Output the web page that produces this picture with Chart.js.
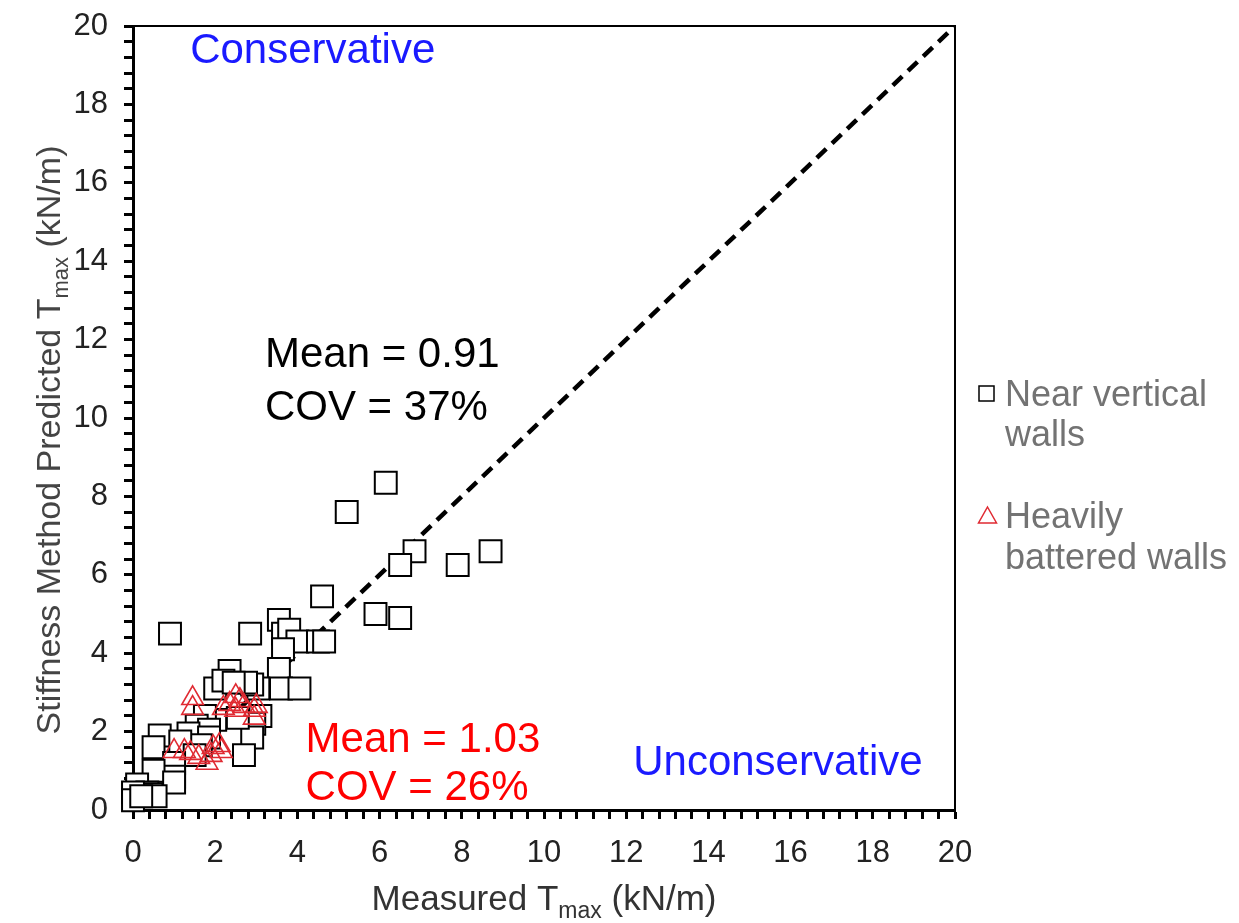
<!DOCTYPE html>
<html>
<head>
<meta charset="utf-8">
<script src="https://cdn.jsdelivr.net/npm/chart.js@4.4.0/dist/chart.umd.min.js"></script>
<style>
  body { margin: 0; background: #fff; }
  #wrap { width: 1239px; height: 923px; }
</style>
</head>
<body>
<div id="wrap"><canvas id="scatterChart" width="1239" height="923"></canvas></div>
<script>
// Near vertical walls (measured, predicted)
var nearX = [5.2, 6.15, 6.85, 8.7, 7.9, 6.5, 5.9, 6.5, 4.6, 3.55, 2.85, 3.65, 3.8, 4.0, 4.5, 4.65, 0.9,
  3.65, 3.55, 3.6, 4.05, 2.35, 2.0, 3.05, 2.9, 2.75, 2.2, 2.45, 3.1, 2.95, 2.9, 2.7, 2.55, 2.0, 1.75,
  1.55, 1.85, 1.35, 1.85, 1.65, 0.65, 0.5, 1.15, 1.5, 1.0, 1.0, 0.5, 1.0, 0.1, 0.35, 0.45, 0.55, 0.0, 0.0, 0.2];
var nearY = [7.6, 8.35, 6.6, 6.6, 6.25, 6.25, 5.0, 4.9, 5.45, 4.85, 4.5, 4.5, 4.6, 4.3, 4.3, 4.3, 4.5,
  4.1, 3.6, 3.1, 3.1, 3.55, 3.1, 3.1, 3.2, 3.25, 3.3, 3.25, 2.4, 2.2, 1.85, 1.4, 2.35, 2.3, 2.4,
  2.15, 2.05, 1.95, 1.85, 1.65, 1.9, 1.6, 1.75, 1.4, 1.2, 0.85, 1.0, 0.7, 0.65, 0.45, 0.4, 0.35, 0.45, 0.25, 0.35];

// Heavily battered walls
var batX = [1.45, 1.45, 2.5, 2.6, 2.35, 2.2, 2.7, 2.95, 3.0, 2.95, 2.5, 1.0, 1.25, 1.4, 1.6, 1.8, 1.95, 2.1, 2.15, 1.9];
var batY = [2.85, 2.6, 2.9, 2.8, 2.7, 2.6, 2.65, 2.55, 2.65, 2.35, 2.55, 1.5, 1.5, 1.45, 1.35, 1.2, 1.6, 1.65, 1.5, 1.4];

var lineX = [0, 20];
var lineY = [0, 20];

var tickLabels = [0, 2, 4, 6, 8, 10, 12, 14, 16, 18, 20];

function toPoints(xs, ys) {
  var pts = [];
  for (var i = 0; i < xs.length; i++) {
    pts.push({x: xs[i], y: ys[i]});
  }
  return pts;
}

var FONT = '"Liberation Sans", Arial, sans-serif';
var RED = '#e02a32';

// draws a title with a "max" subscript after the T
function subTitle(ctx, before, after, size, subSize, cx, by) {
  ctx.font = size + 'px ' + FONT;
  var w1 = ctx.measureText(before).width, w3 = ctx.measureText(after).width;
  ctx.font = subSize + 'px ' + FONT;
  var w2 = ctx.measureText('max').width;
  var x0 = cx - (w1 + w2 + w3) / 2;
  ctx.font = size + 'px ' + FONT; ctx.fillText(before, x0, by);
  ctx.font = subSize + 'px ' + FONT; ctx.fillText('max', x0 + w1, by + 8);
  ctx.font = size + 'px ' + FONT; ctx.fillText(after, x0 + w1 + w2, by);
}

// frame, axis titles, notes and legend
var extras = {
  id: 'extras',
  afterDraw: function(chart) {
    var ctx = chart.ctx;
    var a = chart.chartArea;
    var xs = chart.scales.x, ys = chart.scales.y;
    ctx.save();
    // top/right frame
    ctx.strokeStyle = '#000';
    ctx.lineWidth = 2;
    ctx.beginPath();
    ctx.moveTo(a.left, a.top);
    ctx.lineTo(a.right, a.top);
    ctx.lineTo(a.right, a.bottom);
    ctx.stroke();

    ctx.textBaseline = 'alphabetic';
    ctx.fillStyle = '#333';
    subTitle(ctx, 'Measured T', ' (kN/m)', 35, 23, (a.left + a.right) / 2, 910);

    ctx.save();
    ctx.translate(60, 440);
    ctx.rotate(-Math.PI / 2);
    ctx.fillStyle = '#444';
    subTitle(ctx, 'Stiffness Method Predicted T', ' (kN/m)', 34, 22, 0, 0);
    ctx.restore();

    // notes
    ctx.font = '42px ' + FONT;
    ctx.fillStyle = '#1a1aff';
    ctx.fillText('Conservative', xs.getPixelForValue(1.39), ys.getPixelForValue(19.05));
    ctx.fillText('Unconservative', xs.getPixelForValue(12.17), ys.getPixelForValue(0.89));
    ctx.fillStyle = '#000';
    ctx.fillText('Mean = 0.91', xs.getPixelForValue(3.21), ys.getPixelForValue(11.3));
    ctx.fillText('COV = 37%', xs.getPixelForValue(3.21), ys.getPixelForValue(9.95));
    ctx.fillStyle = '#ff0000';
    ctx.fillText('Mean = 1.03', xs.getPixelForValue(4.2), ys.getPixelForValue(1.48));
    ctx.fillText('COV = 26%', xs.getPixelForValue(4.2), ys.getPixelForValue(0.26));

    // legend
    ctx.font = '36px ' + FONT;
    ctx.fillStyle = '#737373';
    ctx.fillText('Near vertical', 1005, 406);
    ctx.fillText('walls', 1005, 446);
    ctx.fillText('Heavily', 1005, 528);
    ctx.fillText('battered walls', 1005, 569);
    ctx.lineWidth = 1.5;
    ctx.strokeStyle = '#000';
    ctx.strokeRect(979, 386, 15, 15);
    ctx.strokeStyle = RED;
    ctx.beginPath();
    ctx.moveTo(987.5, 507);
    ctx.lineTo(996.5, 523);
    ctx.lineTo(978.5, 523);
    ctx.closePath();
    ctx.stroke();
    ctx.restore();
  }
};

var ctx1 = document.getElementById('scatterChart').getContext('2d');

var axisOpts = function(side) {
  return {
    type: 'linear',
    position: side,
    min: 0,
    max: 20,
    border: { display: true, color: '#000', width: 3 },
    grid: { drawOnChartArea: false, drawTicks: true, tickLength: 9, tickWidth: 3, tickColor: '#000' },
    ticks: {
      stepSize: 0.4,
      autoSkip: false,
      maxRotation: 0,
      padding: 16,
      color: '#222',
      font: { family: FONT, size: 31 },
      callback: function(v) {
        var r = Math.round(v);
        if (Math.abs(v - r) < 1e-6 && tickLabels.indexOf(r) >= 0) return String(r);
        return '';
      }
    }
  };
};

var xOpts = axisOpts('bottom');
xOpts.afterFit = function(scale) {
  scale.height = 113;
  scale.paddingLeft = 0;
  scale.paddingRight = 0;
};
var yOpts = axisOpts('left');
yOpts.afterFit = function(scale) {
  scale.width = 133;
  scale.paddingTop = 0;
  scale.paddingBottom = 0;
};

var myChart = new Chart(ctx1, {
  type: 'scatter',
  data: {
    datasets: [
      {
        label: 'Heavily battered walls',
        data: toPoints(batX, batY),
        pointStyle: 'triangle',
        pointRadius: 12.5,
        borderColor: RED,
        backgroundColor: 'rgba(255,255,255,0)',
        borderWidth: 1.6,
        clip: false,
        order: 0
      },
      {
        label: 'Near vertical walls',
        data: toPoints(nearX, nearY),
        pointStyle: 'rect',
        pointRadius: 15.5,
        borderColor: '#000',
        backgroundColor: '#fff',
        borderWidth: 2,
        clip: false,
        order: 1
      },
      {
        type: 'line',
        label: '1:1',
        data: toPoints(lineX, lineY),
        borderColor: '#000',
        borderWidth: 4.5,
        borderDash: [13, 8],
        pointRadius: 0,
        fill: false,
        order: 2
      }
    ]
  },
  options: {
    responsive: false,
    animation: false,
    devicePixelRatio: 1,
    layout: { padding: { left: 0, top: 26, right: 284, bottom: 0 } },
    plugins: {
      legend: { display: false },
      tooltip: { enabled: false }
    },
    scales: { x: xOpts, y: yOpts }
  },
  plugins: [extras]
});
</script>
</body>
</html>
